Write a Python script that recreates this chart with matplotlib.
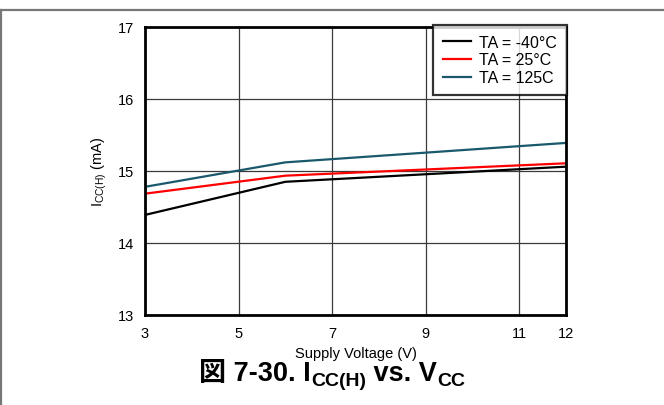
import matplotlib
matplotlib.use("Agg")
import matplotlib.pyplot as plt
from matplotlib.lines import Line2D

plt.rcParams['font.family'] = ['Liberation Sans', 'Noto Sans CJK JP', 'DejaVu Sans']
plt.rcParams['mathtext.default'] = 'regular'

# Data
voltage = [3, 6, 12]
icc_m40 = [14.39, 14.85, 15.06]
icc_25 = [14.685, 14.935, 15.107]
icc_125 = [14.78, 15.12, 15.39]
series_labels = ["TA = -40°C", "TA = 25°C", "TA = 125C"]
series_colors = ["#000000", "#ff0000", "#19596b"]
x_ticks = [3, 5, 7, 9, 11, 12]
y_ticks = [13, 14, 15, 16, 17]

W, H = 664, 406
fig = plt.figure(figsize=(W / 100, H / 100), dpi=100)
ax = fig.add_axes([145 / W, 1 - 316 / H, 421 / W, 288 / H])

for vals, lab, col in zip([icc_m40, icc_25, icc_125], series_labels, series_colors):
    ax.plot(voltage, vals, color=col, lw=1.6, label=lab, zorder=3)

ax.set_xlim(3, 12)
ax.set_ylim(13, 17)
ax.set_xticks(x_ticks)
ax.set_yticks(y_ticks)
ax.tick_params(length=0, labelsize=10.5, pad=8)
ax.grid(True, color='#3a3a3a', lw=0.9)
for s in ax.spines.values():
    s.set_linewidth(2.0)
    s.set_color('black')
    s.set_zorder(4)

ax.set_xlabel("Supply Voltage (V)", fontsize=10.5, labelpad=4)
ax.set_ylabel("I$_{CC(H)}$ (mA)", fontsize=10.5, labelpad=6)

leg = ax.legend(loc='upper right', bbox_to_anchor=(1.002, 1.007), fontsize=11.5,
                frameon=True, fancybox=False, handlelength=1.8, handletextpad=0.5,
                borderpad=0.6, labelspacing=0.18, borderaxespad=0.0)
leg.get_frame().set_edgecolor('black')
leg.get_frame().set_linewidth(1.6)
leg.set_zorder(5)

# Figure border lines (top and left)
fig.add_artist(Line2D([0, 1], [1 - 11 / H, 1 - 11 / H], transform=fig.transFigure,
                      color='#777777', lw=1.6))
fig.add_artist(Line2D([1.2 / W, 1.2 / W], [0, 1 - 11 / H], transform=fig.transFigure,
                      color='#777777', lw=1.6))

# Caption built from pieces
fig.canvas.draw()
renderer = fig.canvas.get_renderer()
pieces = [("図 7-30. I", 19.5, 0), ("CC(H)", 14, -5), (" vs. V", 19.5, 0), ("CC", 14, -5)]
baseline_y = H - 381
texts = []
for s, size, dy in pieces:
    t = fig.text(0, (baseline_y + dy) / H, s, fontsize=size, fontweight='bold',
                 ha='left', va='baseline',
                 family=['Liberation Sans', 'Noto Sans CJK JP'])
    texts.append(t)
widths = [t.get_window_extent(renderer).width for t in texts]
total = sum(widths)
x = W / 2 - total / 2
for t, w in zip(texts, widths):
    t.set_x(x / W)
    x += w

fig.savefig("out.png", dpi=100)
